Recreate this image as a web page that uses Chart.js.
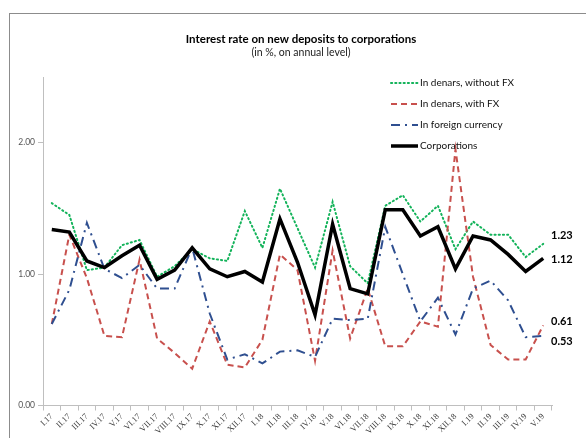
<!DOCTYPE html>
<html>
<head>
<meta charset="utf-8">
<script src="https://cdn.jsdelivr.net/npm/chart.js@4.4.1/dist/chart.umd.min.js"></script>
<style>
  html, body { margin: 0; padding: 0; background: #fff; }
  #wrap { position: relative; width: 586px; height: 438px; overflow: hidden; }
  #frame { position: absolute; left: 9px; top: 13px; width: 600px; height: 460px; border-left: 1px solid #8c8c8c; border-top: 1px solid #8c8c8c; }
  .ttl { position: absolute; left: 0; width: 586px; text-align: center; font-family: Lato, "Liberation Sans", sans-serif; color: #000; white-space: nowrap; }
  #title { top: 32px; font-size: 11.5px; font-weight: bold; margin-left: 8px; }
  #subtitle { top: 46px; font-size: 10.5px; color: #222; margin-left: 8px; }
  canvas { position: absolute; left: 0; top: 0; }
</style>
</head>
<body>
<div id="wrap">
  <div id="frame"></div>
  <canvas id="chart" width="586" height="438"></canvas>
  <div class="ttl" id="title">Interest rate on new deposits to corporations</div>
  <div class="ttl" id="subtitle">(in %, on annual level)</div>
</div>
<script>
// Monthly categories, January 2017 to May 2019
const categories = ['I.17','II.17','III.17','IV.17','V.17','VI.17','VII.17','VIII.17','IX.17','X.17','XI.17','XII.17',
  'I.18','II.18','III.18','IV.18','V.18','VI.18','VII.18','VIII.18','IX.18','X.18','XI.18','XII.18',
  'I.19','II.19','III.19','IV.19','V.19'];

// Interest rates, in % on annual level
const denarsWithoutFx = [1.54,1.45,1.03,1.05,1.22,1.26,0.98,1.06,1.19,1.12,1.10,1.48,
  1.20,1.65,1.35,1.05,1.55,1.06,0.93,1.52,1.60,1.40,1.52,1.19,1.40,1.30,1.30,1.13,1.23];
const denarsWithFx = [0.62,1.30,0.97,0.53,0.52,1.11,0.51,0.40,0.28,0.64,0.31,0.29,
  0.50,1.15,1.03,0.34,1.18,0.51,0.89,0.45,0.45,0.64,0.60,1.95,0.98,0.46,0.35,0.35,0.61];
const foreignCurrency = [0.62,0.88,1.39,1.04,0.97,1.07,0.89,0.89,1.20,0.70,0.35,0.39,
  0.32,0.41,0.42,0.37,0.66,0.65,0.66,1.36,1.00,0.64,0.82,0.54,0.89,0.95,0.80,0.52,0.53];
const corporations = [1.34,1.32,1.10,1.05,1.14,1.22,0.96,1.03,1.20,1.04,0.98,1.02,
  0.94,1.42,1.09,0.69,1.38,0.89,0.85,1.49,1.49,1.29,1.36,1.04,1.29,1.26,1.15,1.02,1.12];

// Value axis
const yTicks = [0, 1, 2];
const yMin = 0;
const yMax = 2.5;

const seriesNames = ['In denars, without FX', 'In denars, with FX', 'In foreign currency', 'Corporations'];

const FONT = 'Lato, "Liberation Sans", sans-serif';
const SERIF = '"Liberation Serif", "DejaVu Serif", serif';

// Legend drawn inside the plot area, top right
const legendPlugin = {
  id: 'innerLegend',
  afterDraw(chart) {
    const ctx = chart.ctx;
    const x0 = 391, x1 = 418, tx = 420;
    const rows = [83, 104, 125, 146];
    chart.data.datasets.forEach((ds, i) => {
      const y = rows[i];
      ctx.save();
      ctx.strokeStyle = ds.borderColor;
      ctx.lineWidth = ds.borderWidth;
      ctx.lineCap = ds.borderCapStyle || 'butt';
      ctx.setLineDash(ds.borderDash || []);
      ctx.beginPath();
      ctx.moveTo(x0, y);
      ctx.lineTo(x1, y);
      ctx.stroke();
      ctx.setLineDash([]);
      ctx.fillStyle = '#111';
      ctx.font = '10px ' + FONT;
      ctx.textBaseline = 'middle';
      ctx.textAlign = 'left';
      ctx.fillText(ds.label, tx, y);
      ctx.restore();
    });
  }
};

// Value labels beside the last point of each series
const endLabelPlugin = {
  id: 'endLabels',
  afterDatasetsDraw(chart) {
    const ctx = chart.ctx;
    const shifts = [-8, -4, 6, 1];
    chart.data.datasets.forEach((ds, i) => {
      const meta = chart.getDatasetMeta(i);
      const last = meta.data[meta.data.length - 1];
      const v = ds.data[ds.data.length - 1];
      ctx.save();
      ctx.fillStyle = '#000';
      ctx.font = 'bold 11px ' + FONT;
      ctx.textBaseline = 'middle';
      ctx.textAlign = 'left';
      ctx.fillText(v.toFixed(2), 551, last.y + shifts[i]);
      ctx.restore();
    });
  }
};

new Chart(document.getElementById('chart'), {
  type: 'line',
  data: {
    labels: categories,
    datasets: [
      { label: seriesNames[0], data: denarsWithoutFx, borderColor: '#13b35a', borderWidth: 2,
        borderDash: [1.2, 3], borderCapStyle: 'round', order: 3 },
      { label: seriesNames[1], data: denarsWithFx, borderColor: '#c8504d', borderWidth: 2,
        borderDash: [6, 4], order: 2 },
      { label: seriesNames[2], data: foreignCurrency, borderColor: '#2f4f90', borderWidth: 2,
        borderDash: [9, 5, 2, 5], order: 1 },
      { label: seriesNames[3], data: corporations, borderColor: '#000000', borderWidth: 3.5,
        borderJoinStyle: 'miter', order: 0 }
    ]
  },
  options: {
    responsive: false,
    animation: false,
    devicePixelRatio: 1,
    layout: { padding: { left: 0, top: 77, right: 34, bottom: 0 } },
    elements: { point: { radius: 0 }, line: { tension: 0, fill: false } },
    plugins: {
      legend: { display: false },
      title: { display: false },
      tooltip: { enabled: false }
    },
    scales: {
      x: {
        offset: true,
        grid: { offset: true, drawOnChartArea: false, tickLength: 5, color: '#bfbfbf' },
        border: { color: '#bfbfbf', width: 1 },
        ticks: { autoSkip: false, maxRotation: 45, minRotation: 45, padding: 1,
          font: { family: SERIF, size: 8.5 }, color: '#3a3a3a' },
        afterFit(scale) { scale.height = 32.5; }
      },
      y: {
        min: yMin,
        max: yMax,
        afterBuildTicks(scale) { scale.ticks = yTicks.map(v => ({ value: v })); },
        grid: { drawOnChartArea: false, tickLength: 5, color: '#bfbfbf' },
        border: { color: '#bfbfbf', width: 1 },
        ticks: { padding: 3, font: { family: FONT, size: 8.5 }, color: '#555',
          callback: v => Number(v).toFixed(2) },
        afterFit(scale) { scale.width = 43; }
      }
    }
  },
  plugins: [legendPlugin, endLabelPlugin]
});
</script>
</body>
</html>
